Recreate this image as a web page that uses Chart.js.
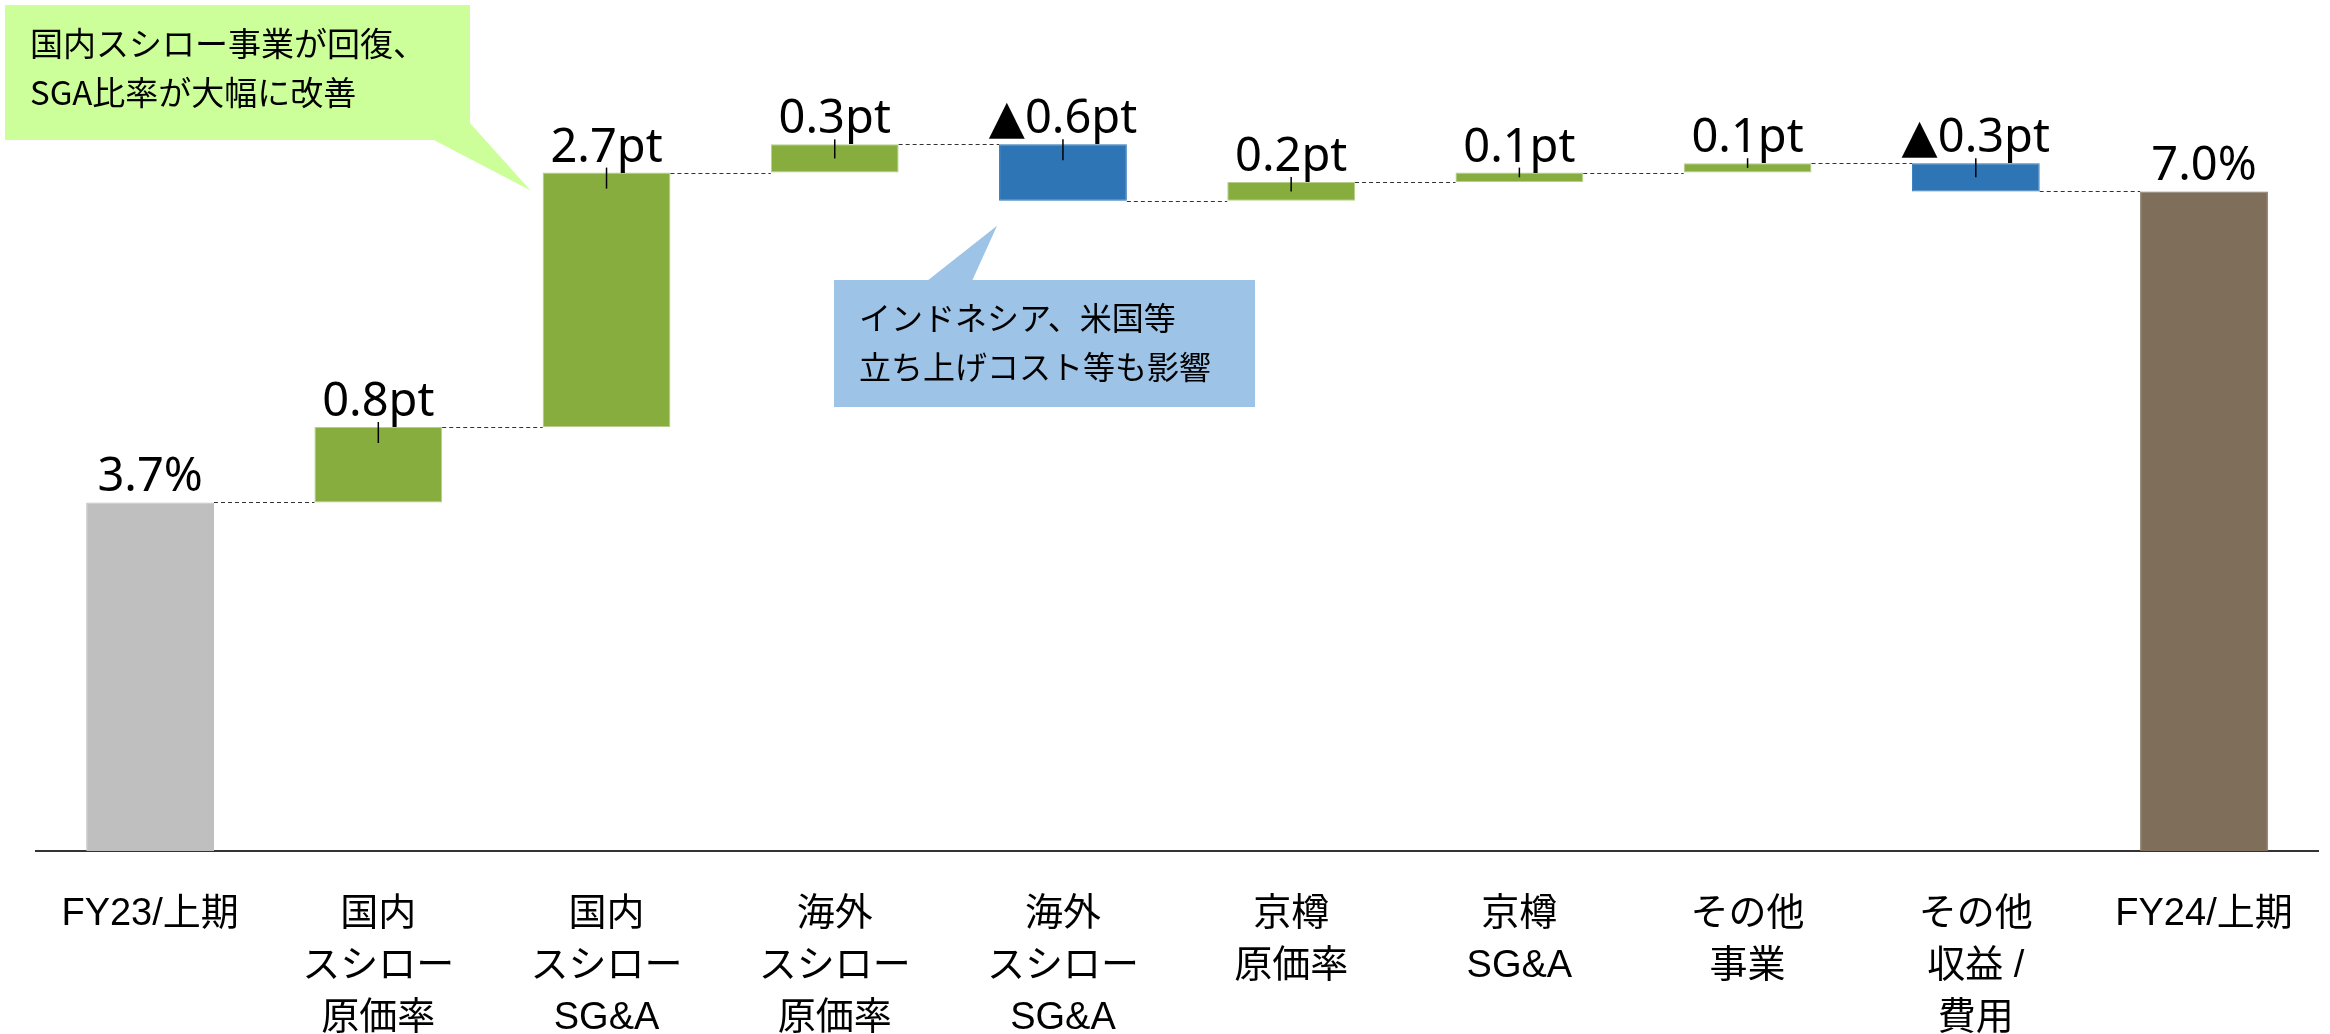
<!DOCTYPE html>
<html>
<head>
<meta charset="utf-8">
<script src="https://cdn.jsdelivr.net/npm/chart.js@4.4.1/dist/chart.umd.min.js"></script>
<style>
  html, body { margin: 0; padding: 0; background: #fff; }
  #wrap { width: 2330px; height: 1034px; position: relative; }
</style>
</head>
<body>
<div id="wrap"><canvas id="waterfall"></canvas></div>
<script>
const categories = [
    ['FY23/上期'],
    ['国内', 'スシロー', '原価率'],
    ['国内', 'スシロー', 'SG&A'],
    ['海外', 'スシロー', '原価率'],
    ['海外', 'スシロー', 'SG&A'],
    ['京樽', '原価率'],
    ['京樽', 'SG&A'],
    ['その他', '事業'],
    ['その他', '収益 /', '費用'],
    ['FY24/上期']
];
const startValue = 3.7;
const deltas = [0.8, 2.7, 0.3, -0.6, 0.2, 0.1, 0.1, -0.3];
const endValue = 7.0;

const colorStart = '#BFBFBF';
const colorUp = '#87AD3F';
const colorDown = '#2E75B6';
const colorEnd = '#7F6F5A';

// build floating bars for the waterfall
const ranges = [[0, startValue]];
const levels = [startValue];
const valueTexts = [startValue.toFixed(1) + '%'];
const barColors = [colorStart];
let level = startValue;
deltas.forEach(d => {
    const next = Math.round((level + d) * 10) / 10;
    ranges.push([level, next]);
    levels.push(next);
    valueTexts.push((d < 0 ? '▲' : '') + Math.abs(d).toFixed(1) + 'pt');
    barColors.push(d < 0 ? colorDown : colorUp);
    level = next;
});
ranges.push([0, endValue]);
levels.push(endValue);
valueTexts.push(endValue.toFixed(1) + '%');
barColors.push(colorEnd);

function drawCallout(ctx, box, baseA, baseB, tip, lines, fill, fontSize, textX, lineYs) {
    ctx.save();
    ctx.fillStyle = fill;
    ctx.fillRect(box.x, box.y, box.w, box.h);
    ctx.beginPath();
    ctx.moveTo(baseA[0], baseA[1]);
    ctx.lineTo(tip[0], tip[1]);
    ctx.lineTo(baseB[0], baseB[1]);
    ctx.closePath();
    ctx.fill();
    ctx.fillStyle = '#000';
    ctx.font = fontSize + 'px "Noto Sans CJK JP", sans-serif';
    ctx.textAlign = 'left';
    ctx.textBaseline = 'middle';
    lines.forEach((t, i) => ctx.fillText(t, textX, lineYs[i]));
    ctx.restore();
}

const waterfallPlugin = {
    id: 'waterfall',
    afterDatasetsDraw(chart) {
        const ctx = chart.ctx;
        const meta = chart.getDatasetMeta(0);
        const y = chart.scales.y;
        const bars = meta.data;

        // dashed connectors
        ctx.save();
        ctx.strokeStyle = '#333';
        ctx.lineWidth = 1;
        ctx.setLineDash([4, 3]);
        for (let i = 0; i < bars.length - 1; i++) {
            const a = bars[i], b = bars[i + 1];
            const py = Math.round(y.getPixelForValue(levels[i])) + 0.5;
            ctx.beginPath();
            ctx.moveTo(a.x + a.width / 2, py);
            ctx.lineTo(b.x - b.width / 2, py);
            ctx.stroke();
        }
        ctx.restore();

        // small ticks on the change bars
        ctx.save();
        ctx.strokeStyle = '#000';
        ctx.lineWidth = 1.5;
        for (let i = 1; i < bars.length - 1; i++) {
            const el = bars[i];
            const top = Math.min(el.y, el.base);
            const h = Math.abs(el.base - el.y);
            ctx.beginPath();
            ctx.moveTo(el.x, top - 5);
            ctx.lineTo(el.x, top + Math.min(h / 2, 16));
            ctx.stroke();
        }
        ctx.restore();

        // value labels
        ctx.save();
        ctx.fillStyle = '#000';
        ctx.font = '47px "Noto Sans", "DejaVu Sans", sans-serif';
        ctx.textAlign = 'center';
        ctx.textBaseline = 'alphabetic';
        bars.forEach((el, i) => {
            const top = Math.min(el.y, el.base);
            ctx.fillText(valueTexts[i], el.x, top - 11);
        });
        ctx.restore();

        // callouts
        const b2 = bars[2];
        const b2top = Math.min(b2.y, b2.base);
        drawCallout(ctx, {x: 5, y: 5, w: 465, h: 135}, [432, 139], [469, 122],
            [b2.x - b2.width / 2 - 12, b2top + 18],
            ['国内スシロー事業が回復、', 'SGA比率が大幅に改善'],
            '#CCFF99', 33, 30, [43, 92]);

        const b4 = bars[4];
        const b4bottom = Math.max(b4.y, b4.base);
        drawCallout(ctx, {x: 834, y: 280, w: 421, h: 127}, [927, 281], [972, 281],
            [b4.x - b4.width / 2 - 2, b4bottom + 25],
            ['インドネシア、米国等', '立ち上げコスト等も影響'],
            '#9DC3E6', 32, 859, [318, 367]);
    }
};

const ctx = document.getElementById('waterfall').getContext('2d');
new Chart(ctx, {
    type: 'bar',
    data: {
        labels: categories,
        datasets: [{
            data: ranges,
            backgroundColor: barColors,
            borderColor: barColors.map(c => c === colorUp ? '#B7CF8C' : c),
            borderWidth: 1,
            borderSkipped: false,
            barPercentage: 0.56,
            categoryPercentage: 1.0
        }]
    },
    options: {
        responsive: true,
        maintainAspectRatio: false,
        animation: false,
        layout: { padding: { top: 3, left: 36, right: 6, bottom: 0 } },
        plugins: {
            legend: { display: false },
            tooltip: { enabled: false }
        },
        scales: {
            x: {
                grid: { display: false, drawTicks: false },
                border: { display: true, color: '#333', width: 2 },
                ticks: {
                    color: '#000',
                    padding: 37,
                    autoSkip: false,
                    maxRotation: 0,
                    font: { family: '"Liberation Sans", "Noto Sans CJK JP", sans-serif', size: 38, lineHeight: 1.37 }
                },
                afterFit: (scale) => { scale.height = 183; }
            },
            y: {
                display: false,
                min: 0,
                max: 9
            }
        }
    },
    plugins: [waterfallPlugin]
});
</script>
</body>
</html>
